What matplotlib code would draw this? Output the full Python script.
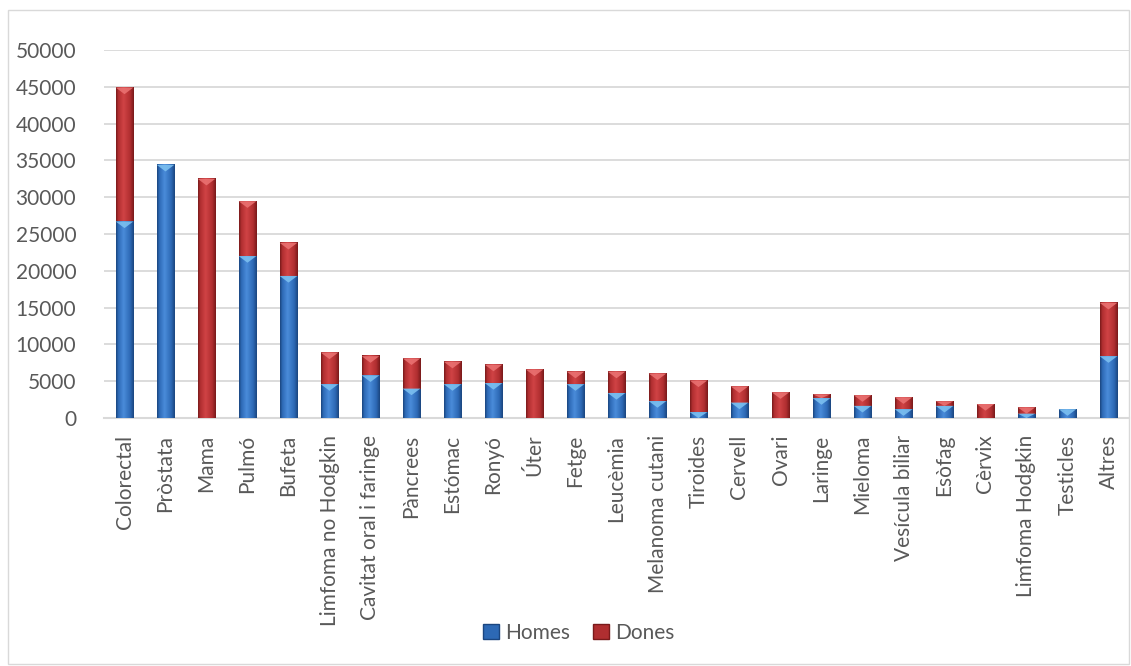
import numpy as np
import matplotlib
matplotlib.use('Agg')
import matplotlib.pyplot as plt
from matplotlib.patches import Polygon, Patch, Rectangle
from matplotlib.colors import to_rgb

plt.rcParams['font.family'] = ['Lato', 'DejaVu Sans']

categories = ['Colorectal', 'Pròstata', 'Mama', 'Pulmó', 'Bufeta',
              'Limfoma no Hodgkin', 'Cavitat oral i faringe', 'Pàncrees',
              'Estómac', 'Ronyó', 'Úter', 'Fetge', 'Leucèmia',
              'Melanoma cutani', 'Tiroides', 'Cervell', 'Ovari', 'Laringe',
              'Mieloma', 'Vesícula biliar', 'Esòfag', 'Cèrvix',
              'Limfoma Hodgkin', 'Testicles', 'Altres']
homes = [26700, 34400, 0, 22000, 19300, 4600, 5800, 4000, 4600, 4750,
         0, 4600, 3400, 2300, 800, 2100, 0, 2700, 1650, 1200, 1650, 0,
         600, 1200, 8400]
dones = [18200, 0, 32500, 7450, 4500, 4300, 2600, 4100, 3050, 2500,
         6600, 1700, 2900, 3750, 4300, 2200, 3500, 520, 1450, 1620, 620,
         1900, 850, 0, 7250]
yticks = list(range(0, 50001, 5000))

# dark edge, base, highlight, top bevel
blue = ('#1b4680', '#2d69b5', '#4a8cda', '#7fc3f2')
red = ('#7a1a1b', '#b02e30', '#d04345', '#ec7474')

W, H = 1131, 666
fig = plt.figure(figsize=(W / 100, H / 100), dpi=100)
ax = fig.add_axes([104 / W, 1 - 418 / H, 1025 / W, 368 / H])

bw = 0.43
tri_h = 900


def grad_bar(x, bottom, height, pal):
    if height <= 0:
        return
    dark, base, light, tip = [np.array(to_rgb(c)) for c in pal]
    pos = np.linspace(0, 1, 40)
    stops = [0, 0.12, 0.42, 0.8, 1]
    cols = [dark, base, light, base, dark]
    img = np.stack([np.interp(pos, stops, [c[k] for c in cols]) for k in range(3)], axis=-1)
    ax.imshow(img[None, :, :], extent=(x - bw / 2, x + bw / 2, bottom, bottom + height),
              aspect='auto', zorder=3, interpolation='bilinear')
    th = min(tri_h, height)
    top = bottom + height
    ax.add_patch(Polygon([(x - bw / 2, top), (x + bw / 2, top), (x, top - th)],
                         closed=True, facecolor=tip, edgecolor='none', alpha=0.85, zorder=4))


x = np.arange(len(categories))
for i in x:
    grad_bar(i, 0, homes[i], blue)
    grad_bar(i, homes[i], dones[i], red)

ax.set_xlim(-0.5, len(categories) - 0.5)
ax.set_ylim(0, 50000)
ax.set_yticks(yticks)
ax.set_yticklabels([str(v) for v in yticks], fontsize=15, color='#595959')
ax.set_xticks(x)
ax.set_xticklabels(categories, rotation=90, fontsize=15, color='#595959')
ax.tick_params(axis='x', length=0, pad=12)
ax.tick_params(axis='y', length=0, pad=20)
ax.grid(axis='y', color='#d9d9d9', linewidth=1.3, zorder=0)
ax.set_axisbelow(True)
for s in ['top', 'right', 'left']:
    ax.spines[s].set_visible(False)
ax.spines['bottom'].set_color('#d9d9d9')
ax.spines['bottom'].set_linewidth(1.5)

handles = [Patch(facecolor=blue[1], edgecolor=blue[0]), Patch(facecolor=red[1], edgecolor=red[0])]
fig.legend(handles, ['Homes', 'Dones'], loc='center', bbox_to_anchor=(579 / W, 1 - 633 / H),
           ncol=2, frameon=False, fontsize=15, handlelength=0.75, handleheight=0.75,
           handletextpad=0.3, columnspacing=1.1, labelcolor='#595959')

fig.add_artist(Rectangle((8 / W, 2 / H), 1121 / W, 654 / H, transform=fig.transFigure,
                         fill=False, edgecolor='#d9d9d9', linewidth=1))

fig.savefig('out.png', dpi=100)
